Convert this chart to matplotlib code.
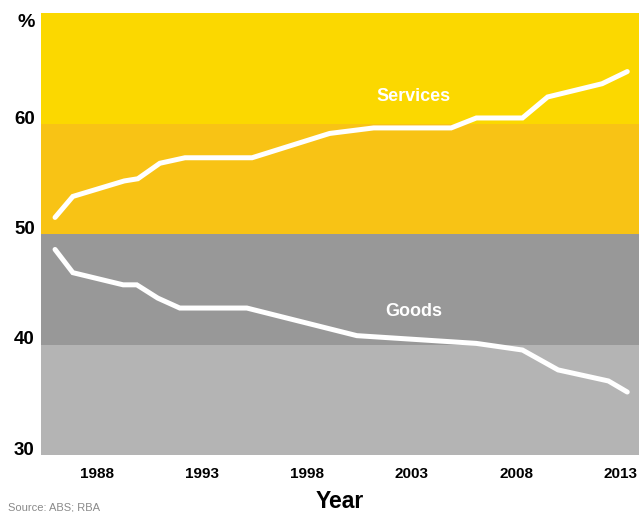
import matplotlib
matplotlib.use("Agg")
import matplotlib.pyplot as plt

# Data
services_years = [1986.0, 1986.85, 1989.3, 1989.95, 1991.0, 1992.2, 1995.4, 1999.1,
                  2001.2, 2004.9, 2006.1, 2008.3, 2009.5, 2012.1, 2013.3]
services_vals = [51.5, 53.4, 54.8, 55.0, 56.4, 56.9, 56.9, 59.1,
                 59.6, 59.6, 60.5, 60.5, 62.4, 63.6, 64.7]
goods_years = [1986.0, 1986.85, 1989.25, 1989.9, 1990.9, 1991.95, 1995.15, 2000.4,
               2006.1, 2008.3, 2010.0, 2012.4, 2013.3]
goods_vals = [48.6, 46.5, 45.4, 45.4, 44.2, 43.3, 43.3, 40.8,
              40.1, 39.5, 37.7, 36.7, 35.7]
xtick_years = [1988, 1993, 1998, 2003, 2008, 2013]
ytick_vals = [30, 40, 50, 60]

band_edges = [30, 40, 50, 60, 70]
band_colors = ["#b4b4b4", "#989898", "#f8c315", "#fbd800"]

plt.rcParams['font.family'] = ['Liberation Sans', 'DejaVu Sans']

fig = plt.figure(figsize=(6.4, 5.12), dpi=100)
ax = fig.add_axes([41/640, 1-455/512, (639-41)/640, (455-13)/512])

for lo, hi, c in zip(band_edges[:-1], band_edges[1:], band_colors):
    ax.axhspan(lo, hi, color=c, lw=0, zorder=0)

ax.plot(services_years, services_vals, color="white", lw=3.6,
        solid_capstyle="round", solid_joinstyle="miter", zorder=3)
ax.plot(goods_years, goods_vals, color="white", lw=3.6,
        solid_capstyle="round", solid_joinstyle="miter", zorder=3)

ax.text(2003.1, 62.4, "Services", color="white", fontsize=13, fontweight="bold",
        ha="center", va="center", zorder=4)
ax.text(2003.1, 43.0, "Goods", color="white", fontsize=13, fontweight="bold",
        ha="center", va="center", zorder=4)

ax.set_xlim(1985.33, 2013.86)
ax.set_ylim(30, 70)

ax.set_xticks(xtick_years)
ax.set_xticklabels([str(y) for y in xtick_years], fontsize=11, fontweight="bold")
ax.set_yticks(ytick_vals)
ax.set_yticklabels([str(v) for v in ytick_vals], fontsize=13.5, fontweight="bold")
for lab in ax.get_yticklabels():
    lab.set_va("baseline")
ax.tick_params(axis="both", length=0)
ax.tick_params(axis="y", pad=4.5)
ax.tick_params(axis="x", pad=9)

for s in ax.spines.values():
    s.set_visible(False)

ax.text(-6/598, 1 - 1/442, "%", transform=ax.transAxes, ha="right", va="top",
        fontsize=14, fontweight="bold")

ax.set_xlabel("Year", fontsize=16.5, fontweight="bold", labelpad=6)

fig.text(8/640, 1-507/512, "Source: ABS; RBA", fontsize=8, color="#8a8a8a",
         ha="left", va="center")

fig.savefig("out.png", dpi=100)
